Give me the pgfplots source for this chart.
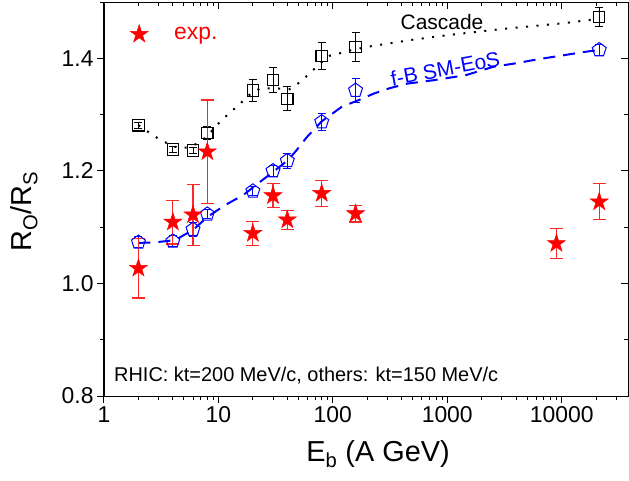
\documentclass[border=0pt]{standalone}
\usepackage{fontspec}
\setmainfont{Liberation Sans}
\usepackage{pgfplots}
\usepackage{pgfplotstable}
\pgfplotsset{compat=1.18}

% filled five-pointed star
\pgfdeclareplotmark{fstar}{%
  \pgfpathmoveto{\pgfpointpolar{90}{\pgfplotmarksize}}%
  \pgfpathlineto{\pgfpointpolar{126}{0.382\pgfplotmarksize}}%
  \pgfpathlineto{\pgfpointpolar{162}{\pgfplotmarksize}}%
  \pgfpathlineto{\pgfpointpolar{198}{0.382\pgfplotmarksize}}%
  \pgfpathlineto{\pgfpointpolar{234}{\pgfplotmarksize}}%
  \pgfpathlineto{\pgfpointpolar{270}{0.382\pgfplotmarksize}}%
  \pgfpathlineto{\pgfpointpolar{306}{\pgfplotmarksize}}%
  \pgfpathlineto{\pgfpointpolar{342}{0.382\pgfplotmarksize}}%
  \pgfpathlineto{\pgfpointpolar{18}{\pgfplotmarksize}}%
  \pgfpathlineto{\pgfpointpolar{54}{0.382\pgfplotmarksize}}%
  \pgfpathclose
  \pgfusepathqfillstroke
}

\definecolor{errred}{RGB}{255,40,40}

\pgfplotstableread{
x y e
2 1.281 0.005
4 1.238 0.006
6 1.236 0.006
8 1.267 0.011
20 1.343 0.020
30 1.361 0.022
40 1.328 0.021
80 1.404 0.024
158 1.420 0.025
21300 1.473 0.017
}\cascade

\pgfplotstableread{
x y e
2 1.073 0.010
4 1.075 0.010
6 1.096 0.012
8 1.123 0.008
20 1.164 0.008
30 1.200 0.010
40 1.218 0.013
80 1.287 0.015
158 1.343 0.021
21300 1.415 0.010
}\fbsm

\pgfplotstableread{
x y e
2 1.027 0.053
4 1.109 0.039
6 1.122 0.054
8 1.234 0.092
20 1.089 0.021
30 1.156 0.021
40 1.113 0.017
80 1.160 0.023
158 1.124 0.015
9000 1.071 0.026
21300 1.145 0.032
}\expdata

\begin{document}
\begin{tikzpicture}
\useasboundingbox (-104bp,-85bp) rectangle (525bp,396bp);
\begin{axis}[
    at={(0,0)}, anchor=south west,
    width=524bp, height=394bp, scale only axis,
    xmode=log, xmin=1, xmax=38000,
    ymin=0.8, ymax=1.5,
    xtick={1,10,100,1000,10000},
    xticklabels={1,10,100,1000,10000},
    minor xtick={2,3,4,5,6,7,8,9,20,30,40,50,60,70,80,90,200,300,400,500,600,700,800,900,2000,3000,4000,5000,6000,7000,8000,9000,20000,30000},
    ytick={0.8,1.0,1.2,1.4},
    yticklabels={0.8,1.0,1.2,1.4},
    minor ytick={0.9,1.1,1.3,1.5},
    xtick pos=left, ytick pos=left,
    tick align=outside,
    major tick length=7bp, minor tick length=4bp,
    tick style={black, line width=1bp},
    axis line style={line width=1bp},
    tick label style={font=\fontsize{23}{23}\selectfont},
    xlabel={E\textsubscript{b} (A GeV)},
    ylabel={R\textsubscript{O}/R\textsubscript{S}},
    label style={font=\fontsize{29}{29}\selectfont},
    x label style={at={(axis description cs:0.523,-0.165)}, anchor=base},
    y label style={at={(axis description cs:-0.138,0.468)}, anchor=base},
    legend style={draw=none, fill=none, inner sep=0pt, at={(axis description cs:0.0496,0.9206)}, anchor=west,
        font=\fontsize{23}{23}\selectfont, text=red, nodes={inner sep=0pt}},
    legend image code/.code={\draw[#1, only marks] plot coordinates {(0bp,0bp)};
        \path[draw=none, fill=none] (-9bp,0bp) -- (35bp,0bp);},
]
% model curves
\addplot[black, line width=2bp, dash pattern=on 2bp off 8.5bp, forget plot] coordinates {
(2,1.281) (2.44,1.269) (3.05,1.256) (4,1.244) (4.6,1.240) (5.5,1.242) (6.78,1.250) (8,1.262)
(10.2,1.286) (12.5,1.303) (15.3,1.318) (18,1.333) (22.9,1.346) (30,1.347) (41.8,1.345)
(51.9,1.358) (63.4,1.374) (76.5,1.390) (95,1.405) (116,1.409) (142,1.414) (209,1.421)
(500,1.433) (1000,1.441) (3000,1.452) (10000,1.462) (21300,1.470)};
\addplot[blue, line width=2bp, dash pattern=on 12bp off 8bp, forget plot] coordinates {
(2,1.072) (2.8,1.073) (4.18,1.077) (6,1.095) (8,1.118) (11.4,1.139) (16.5,1.157) (24,1.183)
(30,1.198) (40,1.218) (47,1.234) (59.3,1.260) (80,1.288) (120,1.314) (170,1.326) (226,1.337)
(316,1.347) (448,1.355) (755,1.361) (1450,1.370) (2540,1.385) (3950,1.391) (6100,1.398)
(15500,1.411) (21300,1.415)};
% Cascade
\addplot[only marks, black, mark=square, mark size=5.7bp, mark options={line width=1.1bp}, forget plot,
    error bars/.cd, y dir=both, y explicit,
    error bar style={line width=1bp, color=black},
    error mark options={rotate=90, mark size=4bp, line width=1bp, color=black}]
    table[x=x, y=y, y error=e] {\cascade};
% f-B SM-EoS
\addplot[only marks, blue, mark=pentagon, mark size=7.3bp, mark options={line width=1bp}, forget plot,
    error bars/.cd, y dir=both, y explicit,
    error bar style={line width=1bp, color=blue},
    error mark options={rotate=90, mark size=4bp, line width=1bp, color=blue}]
    table[x=x, y=y, y error=e] {\fbsm};
% experiment
\addplot[only marks, red, mark=fstar, mark size=9.5bp, mark options={fill=red, draw=red, line width=0.5bp},
    error bars/.cd, y dir=both, y explicit,
    error bar style={line width=1.2bp, color=errred},
    error mark options={rotate=90, mark size=6.5bp, line width=1.2bp, color=errred}]
    table[x=x, y=y, y error=e] {\expdata};
\addlegendentry{exp.}
\node[font=\fontsize{21}{21}\selectfont, black] at (axis cs:900,1.464) {Cascade};
\node[font=\fontsize{21}{21}\selectfont, blue, rotate=10.8] at (axis cs:962,1.382) {f-B SM-EoS};
\node[font=\fontsize{20}{20}\selectfont, anchor=base west] at (axis description cs:0.0128,0.0368)
    {RHIC: kt=200 MeV/c, others: kt=150 MeV/c};
\end{axis}
% mirrored ticks on top and right, pointing inward
\begin{axis}[
    at={(0,0)}, anchor=south west,
    width=524bp, height=394bp, scale only axis,
    xmode=log, xmin=1, xmax=38000,
    ymin=0.8, ymax=1.5,
    xtick={1,10,100,1000,10000}, xticklabels={},
    minor xtick={2,3,4,5,6,7,8,9,20,30,40,50,60,70,80,90,200,300,400,500,600,700,800,900,2000,3000,4000,5000,6000,7000,8000,9000,20000,30000},
    ytick={0.8,1.0,1.2,1.4}, yticklabels={},
    minor ytick={0.9,1.1,1.3,1.5},
    xtick pos=right, ytick pos=right,
    tick align=inside,
    major tick length=7bp, minor tick length=4bp,
    tick style={black, line width=1bp},
    axis line style={line width=1bp},
]
\end{axis}
\end{tikzpicture}
\end{document}
